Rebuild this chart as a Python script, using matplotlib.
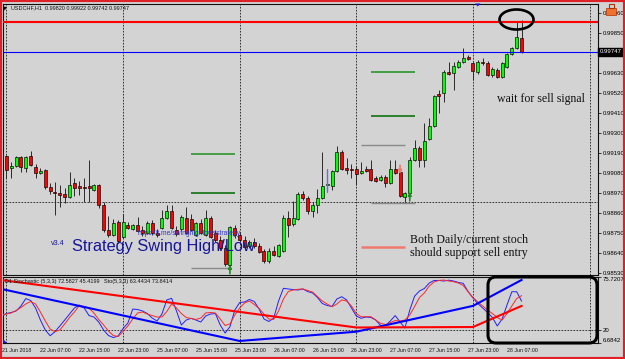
import matplotlib
matplotlib.use('Agg')
import matplotlib.pyplot as plt
from matplotlib.patches import Ellipse, FancyBboxPatch, Rectangle, Polygon
from matplotlib.transforms import Affine2D
import numpy as np

plt.rcParams['font.family'] = ['Liberation Sans', 'DejaVu Sans']

W, H, DPI = 625, 359, 100
BG = '#D3D3D3'

# ---------------- data (H1 bars, index 0 = 21 Jun 23:00) ----------------
bars = list(range(-1, 107))
opens = [0.99152, 0.99174, 0.99108, 0.99119, 0.99168, 0.99108, 0.99174, 0.99113, 0.99080, 0.99097,
         0.99003, 0.98976, 0.98970, 0.98965, 0.98948, 0.99025, 0.99009, 0.99003, 0.99009, 0.98987,
         0.99014, 0.98904, 0.98767, 0.98739, 0.98811, 0.98728, 0.98794, 0.98772, 0.98794, 0.98767,
         0.98750, 0.98805, 0.98750, 0.98778, 0.98833, 0.98871, 0.98767, 0.98772, 0.98833, 0.98827,
         0.98739, 0.98805, 0.98739, 0.98833, 0.98750, 0.98712, 0.98668, 0.98574, 0.98778, 0.98739,
         0.98712, 0.98679, 0.98701, 0.98679, 0.98651, 0.98596, 0.98651, 0.98624, 0.98651, 0.98833,
         0.98800, 0.98827, 0.98965, 0.98943, 0.98871, 0.98904, 0.98943, 0.99014, 0.99009, 0.99091,
         0.99196, 0.99108, 0.99102, 0.99102, 0.99080, 0.99102, 0.99102, 0.99053, 0.99042, 0.99058,
         0.99025, 0.99102, 0.99086, 0.98948, 0.98970, 0.99152, 0.99218, 0.99152, 0.99267, 0.99339,
         0.99515, 0.99520, 0.99636, 0.99630, 0.99663, 0.99691, 0.99718, 0.99685, 0.99636, 0.99691,
         0.99685, 0.99619, 0.99647, 0.99608, 0.99663, 0.99734, 0.99768, 0.99820]
highs = [0.99196, 0.99179, 0.99141, 0.99174, 0.99174, 0.99174, 0.99201, 0.99130, 0.99108, 0.99102,
         0.99025, 0.99031, 0.99014, 0.98998, 0.99086, 0.99053, 0.99036, 0.99053, 0.99152, 0.99020,
         0.99020, 0.98921, 0.98844, 0.98827, 0.98822, 0.98855, 0.98811, 0.98800, 0.98838, 0.98789,
         0.98816, 0.98822, 0.98772, 0.98877, 0.98904, 0.98904, 0.98789, 0.98849, 0.98893, 0.98855,
         0.98811, 0.98827, 0.98877, 0.98844, 0.98767, 0.98734, 0.98684, 0.98789, 0.98794, 0.98756,
         0.98734, 0.98712, 0.98723, 0.98695, 0.98662, 0.98668, 0.98679, 0.98690, 0.98849, 0.98871,
         0.98926, 0.98976, 0.98981, 0.98954, 0.98921, 0.98992, 0.99196, 0.99102, 0.99097, 0.99229,
         0.99207, 0.99163, 0.99130, 0.99119, 0.99141, 0.99119, 0.99152, 0.99064, 0.99069, 0.99069,
         0.99152, 0.99152, 0.99097, 0.98976, 0.99168, 0.99262, 0.99229, 0.99355, 0.99383, 0.99509,
         0.99537, 0.99647, 0.99691, 0.99691, 0.99702, 0.99768, 0.99729, 0.99691, 0.99702, 0.99713,
         0.99696, 0.99663, 0.99658, 0.99691, 0.99740, 0.99773, 0.99911, 0.99922]
lows = [0.99146, 0.99053, 0.99053, 0.99113, 0.99086, 0.99086, 0.99119, 0.99053, 0.99075, 0.98992,
        0.98965, 0.98849, 0.98893, 0.98915, 0.98943, 0.98954, 0.98959, 0.98921, 0.98921, 0.98981,
        0.98888, 0.98756, 0.98728, 0.98734, 0.98695, 0.98723, 0.98772, 0.98767, 0.98756, 0.98734,
        0.98745, 0.98739, 0.98728, 0.98772, 0.98827, 0.98772, 0.98734, 0.98761, 0.98745, 0.98761,
        0.98734, 0.98745, 0.98734, 0.98723, 0.98701, 0.98657, 0.98569, 0.98558, 0.98723, 0.98701,
        0.98662, 0.98668, 0.98668, 0.98640, 0.98585, 0.98585, 0.98624, 0.98618, 0.98646, 0.98728,
        0.98789, 0.98822, 0.98932, 0.98855, 0.98838, 0.98860, 0.98937, 0.98976, 0.98987, 0.99086,
        0.99097, 0.99075, 0.99053, 0.99014, 0.99075, 0.99086, 0.99036, 0.99031, 0.99036, 0.99003,
        0.99020, 0.99075, 0.98948, 0.98915, 0.98959, 0.99146, 0.99113, 0.99113, 0.99262, 0.99333,
        0.99410, 0.99471, 0.99619, 0.99537, 0.99658, 0.99685, 0.99702, 0.99592, 0.99625, 0.99674,
        0.99614, 0.99608, 0.99603, 0.99603, 0.99658, 0.99729, 0.99762, 0.99742]
closes = [0.99190, 0.99097, 0.99119, 0.99168, 0.99113, 0.99168, 0.99124, 0.99080, 0.99091, 0.99003,
          0.98981, 0.98970, 0.98959, 0.98948, 0.99014, 0.98998, 0.98998, 0.98998, 0.98998, 0.99014,
          0.98904, 0.98767, 0.98739, 0.98805, 0.98706, 0.98811, 0.98778, 0.98794, 0.98761, 0.98750,
          0.98805, 0.98750, 0.98739, 0.98833, 0.98871, 0.98778, 0.98745, 0.98838, 0.98750, 0.98767,
          0.98805, 0.98750, 0.98833, 0.98728, 0.98712, 0.98668, 0.98580, 0.98783, 0.98739, 0.98712,
          0.98673, 0.98701, 0.98679, 0.98646, 0.98596, 0.98651, 0.98629, 0.98684, 0.98833, 0.98794,
          0.98833, 0.98965, 0.98943, 0.98871, 0.98904, 0.98943, 0.99009, 0.99020, 0.99091, 0.99196,
          0.99102, 0.99097, 0.99097, 0.99075, 0.99091, 0.99091, 0.99042, 0.99036, 0.99058, 0.99025,
          0.99102, 0.99080, 0.98954, 0.98970, 0.99152, 0.99218, 0.99152, 0.99256, 0.99339, 0.99504,
          0.99504, 0.99636, 0.99625, 0.99669, 0.99691, 0.99713, 0.99707, 0.99641, 0.99691, 0.99685,
          0.99619, 0.99652, 0.99608, 0.99685, 0.99734, 0.99768, 0.99828, 0.99747]

# H1 stochastic (5,3,3)
sto_main = [34.4, 37.5, 38.6, 40.2, 45.4, 53.2, 51.1, 43.3, 30.7, 20.3,
            14.3, 18.5, 24.5, 30.7, 37.0, 43.3, 46.4, 43.3, 35.4, 33.9,
            28.6, 20.3, 14.5, 12.4, 14.0, 21.8, 27.6, 42.2, 41.7, 40.2,
            37.5, 32.8, 29.7, 37.0, 51.7, 53.4, 40.2, 25.5, 30.7, 32.5,
            30.7, 28.6, 34.9, 37.0, 37.5, 25.5, 17.1, 23.7, 41.2, 49.0,
            49.6, 52.2, 50.1, 42.2, 31.8, 29.2, 32.8, 50.6, 63.9, 63.2,
            62.6, 62.1, 63.2, 60.5, 59.0, 54.3, 48.0, 45.9, 44.9, 52.7,
            55.1, 51.7, 43.3, 34.9, 32.5, 33.9, 33.4, 30.7, 25.0, 25.0,
            29.7, 35.4, 28.6, 22.4, 41.2, 55.8, 61.1, 63.7, 69.4, 72.1,
            72.1, 71.5, 72.4, 71.5, 70.0, 69.1, 60.5, 53.8, 48.0, 43.3,
            38.6, 33.4, 24.5, 31.8, 46.4, 60.3, 60.3, 50.6]
sto_signal = [36.0, 37.0, 38.1, 40.7, 43.8, 47.5, 50.1, 47.5, 39.1, 29.7,
              21.3, 18.5, 20.3, 26.6, 33.4, 39.1, 45.9, 44.9, 43.3, 38.1,
              31.3, 25.5, 19.2, 14.5, 13.5, 18.7, 24.5, 31.8, 38.1, 39.1,
              37.0, 35.4, 33.9, 33.9, 39.6, 47.5, 43.3, 37.5, 33.4, 32.3,
              31.3, 32.8, 38.1, 38.6, 38.1, 31.8, 25.0, 26.6, 36.0, 43.3,
              48.5, 50.6, 47.0, 42.8, 37.0, 31.8, 31.3, 40.2, 52.7, 60.5,
              62.1, 62.9, 63.2, 61.6, 60.0, 55.3, 50.6, 47.5, 44.6, 47.5,
              51.7, 50.6, 45.4, 37.5, 34.2, 34.2, 34.2, 30.7, 27.3, 26.0,
              28.1, 30.2, 29.7, 30.7, 36.0, 44.9, 54.3, 59.0, 66.3, 70.5,
              72.1, 72.6, 71.5, 70.8, 69.4, 66.8, 60.3, 54.3, 49.6, 45.4,
              41.2, 37.5, 33.4, 30.7, 37.5, 45.4, 53.2, 56.2]

# D1 stochastic drawn on H1 chart
d1_bars = [-1, 48, 72, 96, 106]
d1_main = [63.2, 8.8, 18.5, 45.5, 72.5827]
d1_signal = [72.6, 39.2, 22.9, 23.4, 45.4199]

bid_price = 0.99747
red_level = 0.99910
grid_price = 0.98920
stoch_level = 20

swing_start = [38, 38, 75, 75]
swing_end = [47, 47, 84, 84]
swing_price = [0.99183, 0.98972, 0.99637, 0.99395]
swing_color = ['#3A9A3A', '#1F7A1F', '#3A9A3A', '#1F7A1F']
gray_start = [38, 73, 75]
gray_end = [45.5, 82, 84]
gray_price = [0.98556, 0.99234, 0.98917]
salmon_start, salmon_end, salmon_price = 73, 82, 0.98675
up_arrow_bars = [46, 83]
down_arrow_bars = [81]
marked_bar = 66

price_ticks = [0.99960, 0.99850, 0.99630, 0.99520, 0.99410, 0.99300, 0.99190,
               0.99080, 0.98970, 0.98860, 0.98750, 0.98640, 0.98530]
grid_bars = [0, 24, 48, 72, 96, 120]
date_bars = [0, 8, 16, 24, 32, 40, 48, 56, 64, 72, 80, 88, 96, 104]
date_labels = ['21 Jun 2018', '22 Jun 07:00', '22 Jun 15:00', '22 Jun 23:00',
               '25 Jun 07:00', '25 Jun 15:00', '25 Jun 23:00', '26 Jun 07:00',
               '26 Jun 15:00', '26 Jun 23:00', '27 Jun 07:00', '27 Jun 15:00',
               '27 Jun 23:00', '28 Jun 07:00']

# ---------------- figure ----------------
fig = plt.figure(figsize=(W / DPI, H / DPI), dpi=DPI, facecolor=BG)
PX = Affine2D().scale(1 / DPI, -1 / DPI).translate(0, H / DPI) + fig.dpi_scale_trans


def rect(l, t, r, b):
    return [l / W, 1 - b / H, (r - l) / W, (b - t) / H]


ax = fig.add_axes(rect(2.5, 4, 598, 275), facecolor=BG)
ax_st = fig.add_axes(rect(2.5, 277, 598, 343), facecolor=BG)
for a in (ax, ax_st):
    a.set_xlim(-0.80, 121.73)
    a.set_xticks([])
    for s in a.spines.values():
        s.set_color('#101010')
        s.set_linewidth(0.8)
ax.set_ylim(0.985190, 1.000095)
ax_st.set_ylim(6.6842, 75.7207)

grid_kw = dict(color='#1a1a1a', lw=0.6, ls=(0, (2, 1.6)), zorder=1)
for gb in grid_bars:
    ax.axvline(gb, **grid_kw)
    ax_st.axvline(gb, **grid_kw)
ax.axhline(grid_price, **grid_kw)
ax_st.axhline(stoch_level, **grid_kw)

# candles
x = np.array(bars)
o, h, l, c = map(np.array, (opens, highs, lows, closes))
up = c >= o
ax.vlines(x, l, h, color='#2a2a2a', lw=0.7, zorder=3)
body_lo = np.minimum(o, c)
body_h = np.maximum(np.abs(c - o), 0.00002)
ax.bar(x[up], body_h[up], bottom=body_lo[up], width=0.62, color='#00FF00',
       edgecolor='black', lw=0.45, zorder=4)
ax.bar(x[~up], body_h[~up], bottom=body_lo[~up], width=0.62, color='#FF0000',
       edgecolor='black', lw=0.45, zorder=4)
mi = bars.index(marked_bar)
ax.vlines(marked_bar, lows[mi], highs[mi], color='#6A6AF0', lw=1.0, zorder=5)

# levels
ax.axhline(red_level, color='#FF0000', lw=1.5, zorder=5)
ax.axhline(bid_price, color='#0000FF', lw=0.8, zorder=5)
ax.hlines(swing_price, swing_start, swing_end, colors=swing_color, lw=1.3, zorder=5)
ax.hlines(gray_price, gray_start, gray_end, colors='#8A8A8A', lw=1.0, zorder=5)
ax.hlines(salmon_price, salmon_start, salmon_end, colors='#F07A6E', lw=1.8, zorder=5)

for b in up_arrow_bars:
    lo = lows[bars.index(b)]
    ax.annotate('', xy=(b, lo + 0.00018), xytext=(b, lo - 0.00032),
                arrowprops=dict(arrowstyle='-|>', color='#1E8C1E', lw=1.2,
                                mutation_scale=5, shrinkA=0, shrinkB=0), zorder=6)
for b in down_arrow_bars:
    hi = highs[bars.index(b)]
    ax.annotate('', xy=(b, hi - 0.00022), xytext=(b, hi + 0.00026),
                arrowprops=dict(arrowstyle='-|>', color='#F07868', lw=1.2,
                                mutation_scale=5, shrinkA=0, shrinkB=0), zorder=6)

# price axis
ax.yaxis.tick_right()
ax.set_yticks(price_ticks)
ax.set_yticklabels([f'{p:.5f}' for p in price_ticks])
ax.tick_params(axis='y', length=2, width=0.6, pad=1.2, labelsize=4.3, color='#202020')
ax.text(1.003, bid_price, f'{bid_price:.5f}', transform=ax.get_yaxis_transform(),
        ha='left', va='center', fontsize=4.3, color='white',
        bbox=dict(boxstyle='square,pad=0.25', fc='black', ec='black'))

# stochastic panel
ax_st.plot(bars, sto_main, color='#2020FF', lw=0.7, zorder=3)
ax_st.plot(bars, sto_signal, color='#FF2828', lw=0.7, zorder=3)
ax_st.plot(d1_bars, d1_main, color='#0000FF', lw=1.5, zorder=4)
ax_st.plot(d1_bars, d1_signal, color='#FF0000', lw=1.5, zorder=4)
ax_st.yaxis.tick_right()
st_ticks = [6.6842, 20, 75.7207]
ax_st.set_yticks(st_ticks)
ax_st.set_yticklabels(['6.6842', '20', '75.7207'])
ax_st.tick_params(axis='y', length=2, width=0.6, pad=1.2, labelsize=4.3, color='#202020')
tl = ax_st.get_yticklabels()
tl[0].set_va('bottom')
tl[2].set_va('top')

xt = ax_st.get_xaxis_transform()
for b, s in zip(date_bars, date_labels):
    ax_st.text(b - 1.0, -0.11, s, transform=xt, ha='left', va='center',
               fontsize=3.8, color='#111111', clip_on=False)

# texts
fig.text(3.2, 7.8, '\u25bc', transform=PX, fontsize=3.4, va='center', ha='left',
         family=['DejaVu Sans'])
fig.text(11, 7.8, 'USDCHF,H1  0.99820 0.99922 0.99742 0.99747', transform=PX,
         fontsize=4.0, va='center', ha='left', color='#111111')
fig.text(5, 281.5, 'D1 Stochastic (5,3,3) 72.5827 45.4199   Sto(5,3,3) 63.4434 73.8414',
         transform=PX, fontsize=4.0, va='center', ha='left', color='#111111')

serif = ['Liberation Serif', 'DejaVu Serif']
fig.text(497, 102, 'wait for sell signal', transform=PX, fontsize=8.6,
         family=serif, va='baseline', ha='left', color='#111111')
fig.text(410, 243, 'Both Daily/current stoch', transform=PX, fontsize=8.6,
         family=serif, va='baseline', ha='left', color='#111111')
fig.text(410, 256, 'should support sell entry', transform=PX, fontsize=8.6,
         family=serif, va='baseline', ha='left', color='#111111')
fig.text(72, 251, 'Strategy Swing High/Low', transform=PX, fontsize=11.8,
         va='baseline', ha='left', color='#16169A', zorder=7)
fig.text(51, 245, 'v3.4', transform=PX, fontsize=5.2, va='baseline', ha='left',
         color='#16169A')
fig.text(137, 235, 'https://t.me/swinghighlowsstrategy', transform=PX, fontsize=4.9,
         va='baseline', ha='left', color='#3434D0', zorder=7)

# drawings
fig.patches.append(Ellipse((516.5, 19.5), 34, 20, transform=PX, fill=False,
                           ec='black', lw=1.9, zorder=10))
fig.patches.append(FancyBboxPatch((488, 277), 109, 66, boxstyle='round,pad=0,rounding_size=8',
                                  transform=PX, fill=False, ec='black', lw=2.2, zorder=10))
fig.patches.append(Polygon([(475, 3.5), (480.5, 3.5), (477.75, 6.5)], closed=True,
                           transform=PX, fc='#1515E0', ec='none', zorder=10))
fig.patches.append(Polygon([(2.5, 339), (2.5, 343), (6.5, 343)], closed=True,
                           transform=PX, fc='#1515E0', ec='none', zorder=10))
fig.patches.append(Rectangle((606, 7.5), 10, 7, transform=PX, fc='#F07030',
                             ec='#B03000', lw=0.5, zorder=10))
fig.patches.append(Rectangle((608.5, 3.5), 5, 4.5, transform=PX, fill=False,
                             ec='#B03000', lw=0.8, zorder=10))
fig.patches.append(Rectangle((0, 0), W, H, transform=PX, fill=False,
                             ec='#E02028', lw=3.0, zorder=11))

fig.savefig('out.png', dpi=DPI, facecolor=BG)
